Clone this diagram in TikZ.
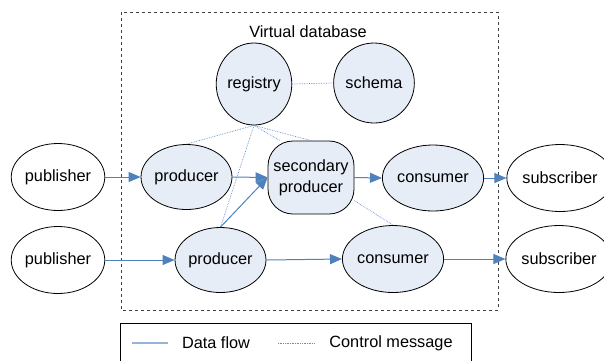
\documentclass[tikz,border=0pt]{standalone}
\usepackage{fontspec}
\setmainfont{Liberation Sans}
\usetikzlibrary{arrows.meta,shapes.geometric}

\definecolor{flowblue}{RGB}{79,129,189}
\definecolor{ctrlblue}{RGB}{100,140,205}
\definecolor{nodefill}{RGB}{230,237,247}

\tikzset{
  actor/.style={ellipse, draw, line width=0.8pt, inner sep=0pt, minimum width=88pt, minimum height=67pt},
  vdbnode/.style={ellipse, draw, fill=nodefill, line width=0.8pt, inner sep=0pt, minimum width=86pt, minimum height=65pt},
  flow/.style={-{Triangle[length=12pt,width=10pt]}, flowblue, line width=1pt},
  ctrl/.style={ctrlblue, line width=0.7pt, densely dotted},
}

\begin{document}
\begin{tikzpicture}[x=1pt, y=-1pt, every node/.style={font=\fontsize{16.3}{19}\selectfont}]
				\useasboundingbox (0,0) rectangle (604,360);

				% Virtual database frame
				\draw[dashed, line width=0.8pt, black!75] (121,12) rectangle (498,310);
				\node (vdb) at (308,32) {Virtual database};

				% Nodes inside the virtual database
				\node[vdbnode, minimum width=65pt, minimum height=82pt] (reg) at (254,84) {registry};
				\node[vdbnode, minimum width=72pt, minimum height=80pt] (schema) at (374,83) {schema};
				\node[vdbnode] (prod1) at (186.5,177) {producer};
				\node[vdbnode] (prod2) at (220.5,260) {producer};
				\node[draw, fill=nodefill, line width=0.8pt, rounded corners=25pt, align=center,
					inner sep=0pt, minimum width=86pt, minimum height=73pt] (sec) at (311,177.5) {secondary\\[2pt]producer};
				\node[vdbnode, minimum width=90pt, minimum height=66pt] (cons1) at (433,178) {consumer};
				\node[vdbnode, minimum width=90pt, minimum height=67pt] (cons2) at (393,259) {consumer};

				% Outside actors
				\node[actor] (pub1) at (58,177) {publisher};
				\node[actor] (pub2) at (58,260) {publisher};
				\node[actor] (sub1) at (560,178) {subscriber};
				\node[actor] (sub2) at (559,259) {subscriber};

				% Control messages
				\draw[ctrl] (reg.east) -- (schema.west);
				\draw[ctrl] (reg.south) -- (prod1.north);
				\draw[ctrl] (reg.south) -- (prod2.north);
				\draw[ctrl] (reg.south) -- (sec.130);
				\draw[ctrl] (reg.south) -- (sec.north);
				\draw[ctrl] (sec.-28) -- (cons2.north);

				% Data flow
				\draw[flow] (pub1.east) -- (prod1.west);
				\draw[flow] (prod1.east) -- (sec.west);
				\draw[flow] (prod2.north) -- (sec.west);
				\draw[flow] (sec.east) -- (cons1.west);
				\draw[flow] (cons1.east) -- (sub1.west);
				\draw[flow] (pub2.east) -- (prod2.west);
				\draw[flow] (prod2.east) -- (cons2.west);
				\draw[flow] (cons2.east) -- (sub2.west);

				% Legend
				\draw[line width=0.8pt] (120,323) rectangle (471,366);
				\coordinate (dfa) at (132,343);
				\coordinate (dfb) at (168,343);
				\coordinate (cma) at (278,343);
				\coordinate (cmb) at (314,343);
				\draw[flowblue!60, line width=1.3pt] (dfa) -- (dfb);
				\draw[ctrl] (cma) -- (cmb);
				\node (dflabel) at (216,343) {Data flow};
				\node (cmlabel) at (391,343) {Control message};

			\end{tikzpicture}
\end{document}
